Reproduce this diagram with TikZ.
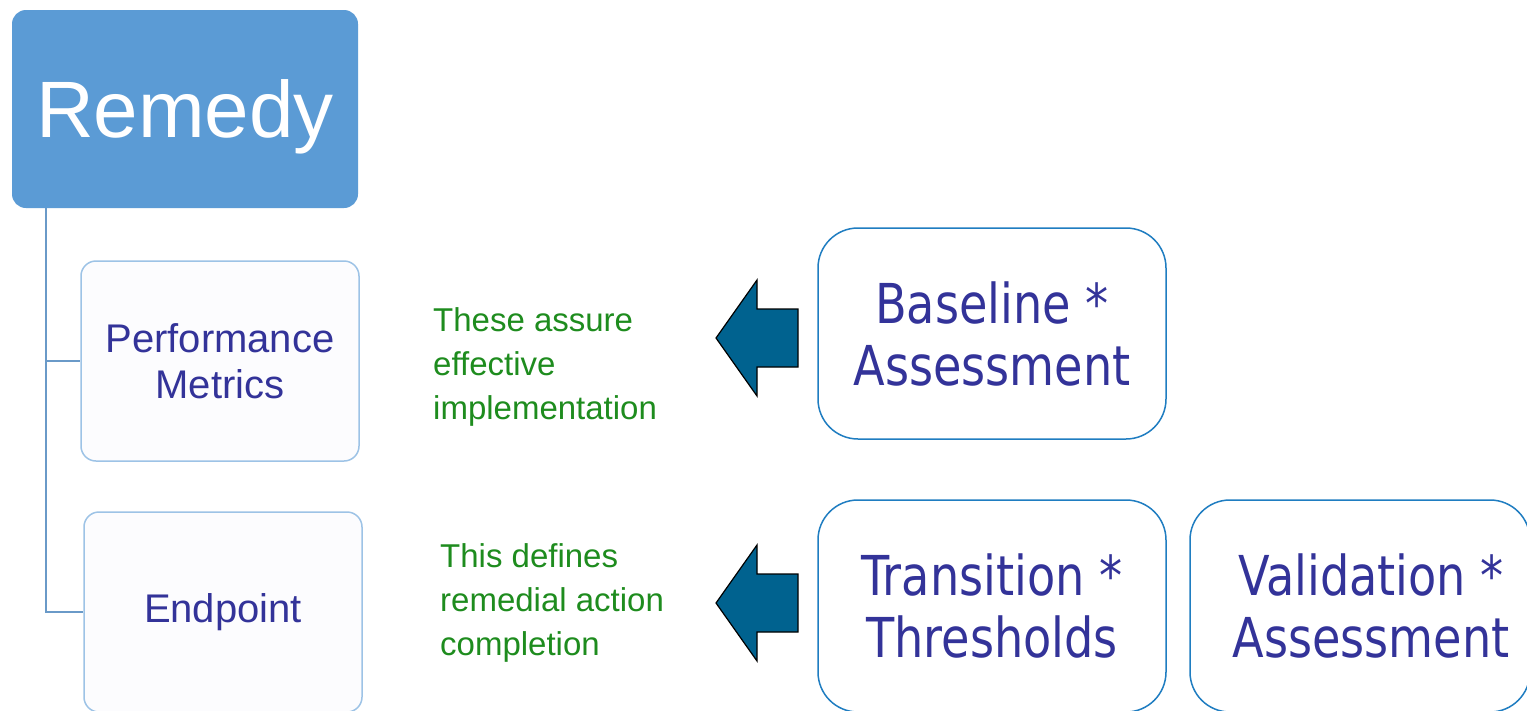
\documentclass[tikz,border=0pt]{standalone}
\usepackage{fontspec}
\setmainfont{Liberation Sans}
\newfontfamily\tahomalike[FakeStretch=0.84]{DejaVu Sans}
\definecolor{remedyblue}{HTML}{5B9BD5}
\definecolor{treeline}{HTML}{6A9AC8}
\definecolor{lightborder}{HTML}{9DC3E6}
\definecolor{lightfill}{HTML}{FCFCFE}
\definecolor{navytext}{HTML}{333399}
\definecolor{greentext}{HTML}{1E8C1E}
\definecolor{arrowfill}{HTML}{00628F}
\definecolor{boxborder}{HTML}{1F7DC1}
\tikzset{
  remedybox/.style={fill=remedyblue, rounded corners=14pt, text=white, font=\fontsize{80}{90}\selectfont},
  subbox/.style={draw=lightborder, line width=1.5pt, fill=lightfill, rounded corners=15pt, text=navytext, align=center, font=\fontsize{40}{46}\selectfont},
  notetext/.style={text=greentext, align=left, anchor=north west, inner sep=0pt, font=\fontsize{33}{44}\selectfont},
  rightbox/.style={draw=boxborder, line width=1.5pt, fill=white, rounded corners=40pt, text=navytext, align=center, font=\tahomalike\fontsize{55}{62}\selectfont},
  blockarrow/.style={fill=arrowfill, draw=black, line width=1.2pt, line join=miter},
  treeconn/.style={draw=treeline, line width=2pt}
}
\begin{document}
\begin{tikzpicture}[x=1pt,y=-1pt]
\useasboundingbox (0,0) rectangle (1527,710);
\fill[white] (0,0) rectangle (1527,710);
% tree
\node[remedybox, minimum width=346pt, minimum height=198pt] (remedy) at (185,109) {\raisebox{0pt}[67pt][10pt]{Remedy}};
\node[subbox, minimum width=278pt, minimum height=200pt] (pm) at (220,361) {Performance\\Metrics};
\node[subbox, minimum width=278pt, minimum height=200pt] (ep) at (223,612) {Endpoint};
\coordinate (trunk) at (46,208);
\draw[treeconn] (trunk) |- (pm.west);
\draw[treeconn] (trunk) |- (ep.west);
% notes
\node[notetext] (note1) at (433,307) {These assure\\effective\\implementation};
\node[notetext] (note2) at (440,543) {This defines\\remedial action\\completion};
% arrows
\draw[blockarrow] (716,338) -- (757,280) -- (757,309) -- (798,309) -- (798,367) -- (757,367) -- (757,396) -- cycle;
\draw[blockarrow] (716,603) -- (757,545) -- (757,574) -- (798,574) -- (798,632) -- (757,632) -- (757,661) -- cycle;
% right boxes
\node[rightbox, minimum width=348pt, minimum height=211pt] (base) at (992,333.5) {Baseline *\\Assessment};
\node[rightbox, minimum width=348pt, minimum height=212pt] (trans) at (992,606) {Transition *\\Thresholds};
\node[rightbox, minimum width=340pt, minimum height=212pt] (valid) at (1360,606) {\hspace*{22pt}Validation *\\\hspace*{22pt}Assessment};
\end{tikzpicture}
\end{document}
